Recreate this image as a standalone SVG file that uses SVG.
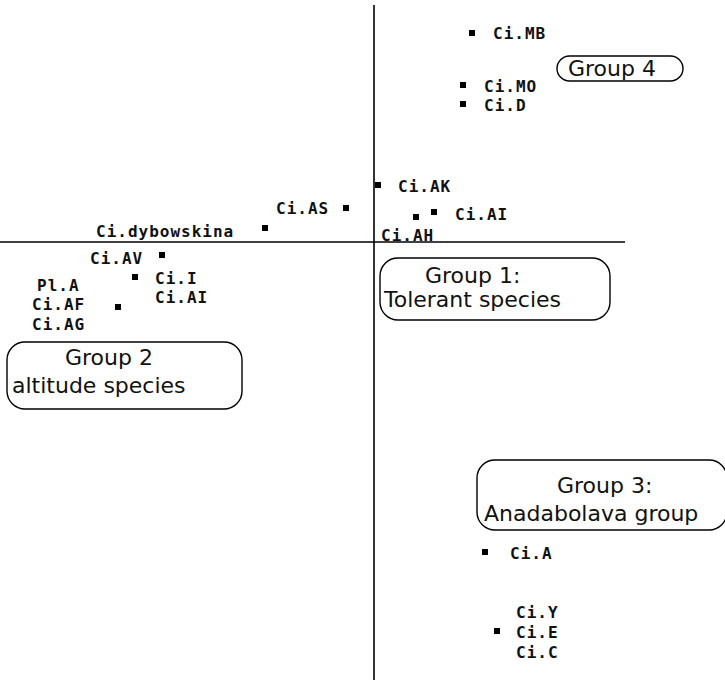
<svg xmlns="http://www.w3.org/2000/svg" width="725" height="680" viewBox="0 0 725 680">
  <style>
    .axis { stroke: #000; stroke-width: 1.6; fill: none; }
    .pt { fill: #000; }
    .lbl { font-family: "DejaVu Sans Mono", "Liberation Mono", monospace; font-weight: bold; font-size: 16px; letter-spacing: 1px; fill: #111; }
    .grp rect { fill: #fff; stroke: #000; stroke-width: 1.4; }
    .grp text { font-family: "DejaVu Sans", "Liberation Sans", sans-serif; font-size: 22px; fill: #111; }
  </style>
  <rect width="725" height="680" fill="#fff"/>

  <!-- ordination axes -->
  <g id="axes">
    <line class="axis" x1="374" y1="5" x2="374" y2="680"/>
    <line class="axis" x1="0" y1="242" x2="625" y2="242"/>
  </g>

  <!-- species points and labels -->
  <g id="ci-mb"><rect class="pt" x="469" y="30" width="6" height="6"/><text class="lbl" x="493" y="39">Ci.MB</text></g>
  <g id="ci-mo"><rect class="pt" x="460" y="82" width="6" height="6"/><text class="lbl" x="484" y="92">Ci.MO</text></g>
  <g id="ci-d"><rect class="pt" x="460" y="101" width="6" height="6"/><text class="lbl" x="484" y="111">Ci.D</text></g>
  <g id="ci-ak"><rect class="pt" x="375" y="182" width="6" height="6"/><text class="lbl" x="398" y="192">Ci.AK</text></g>
  <g id="ci-ai-right"><rect class="pt" x="413" y="214" width="6" height="6"/><rect class="pt" x="431" y="209" width="6" height="6"/><text class="lbl" x="455" y="220">Ci.AI</text></g>
  <g id="ci-ah"><text class="lbl" x="381" y="241">Ci.AH</text></g>
  <g id="ci-as"><rect class="pt" x="343" y="205" width="6" height="6"/><text class="lbl" x="276" y="214">Ci.AS</text></g>
  <g id="ci-dybowskina"><rect class="pt" x="262" y="225" width="6" height="6"/><text class="lbl" x="96" y="237">Ci.dybowskina</text></g>
  <g id="ci-av"><rect class="pt" x="159" y="252" width="6" height="6"/><text class="lbl" x="90" y="264">Ci.AV</text></g>
  <g id="ci-i"><rect class="pt" x="132" y="274" width="6" height="6"/><text class="lbl" x="155" y="284">Ci.I</text></g>
  <g id="ci-ai-left"><text class="lbl" x="155" y="303">Ci.AI</text></g>
  <g id="pl-a"><text class="lbl" x="37" y="291">Pl.A</text></g>
  <g id="ci-af"><rect class="pt" x="115" y="304" width="6" height="6"/><text class="lbl" x="32" y="310">Ci.AF</text></g>
  <g id="ci-ag"><text class="lbl" x="32" y="330">Ci.AG</text></g>
  <g id="ci-a"><rect class="pt" x="482" y="549" width="6" height="6"/><text class="lbl" x="510" y="559">Ci.A</text></g>
  <g id="ci-y"><text class="lbl" x="516" y="618">Ci.Y</text></g>
  <g id="ci-e"><rect class="pt" x="494" y="628" width="6" height="6"/><text class="lbl" x="516" y="638">Ci.E</text></g>
  <g id="ci-c"><text class="lbl" x="516" y="658">Ci.C</text></g>

  <!-- group labels -->
  <g id="group-4" class="grp">
    <rect x="557" y="56" width="126" height="25" rx="12.5"/>
    <text x="568" y="76">Group 4</text>
  </g>
  <g id="group-1" class="grp">
    <rect x="380" y="258" width="230" height="62" rx="18"/>
    <text x="425" y="283">Group 1:</text>
    <text x="384" y="307">Tolerant species</text>
  </g>
  <g id="group-2" class="grp">
    <rect x="7" y="342" width="235" height="67" rx="18"/>
    <text x="65" y="365">Group 2</text>
    <text x="12" y="393">altitude species</text>
  </g>
  <g id="group-3" class="grp">
    <rect x="477" y="460" width="250" height="70" rx="18"/>
    <text x="557" y="493">Group 3:</text>
    <text x="484" y="521">Anadabolava group</text>
  </g>
</svg>
